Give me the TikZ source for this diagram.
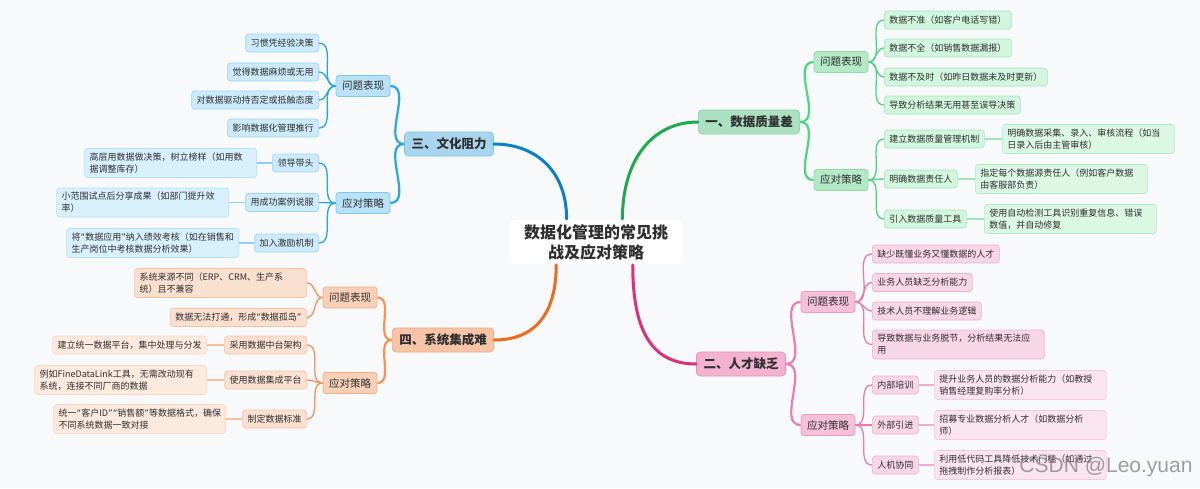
\documentclass[tikz,border=0pt]{standalone}
\usepackage{fontspec}
\setmainfont{Noto Sans CJK SC}
\newfontfamily\wmfont{Liberation Sans}
\newfontfamily\qfont{DejaVu Sans}
\newcommand\cq[1]{{\qfont“}#1{\qfont”}}
\usepackage{tikz}

% colours: g green, p pink, b blue, o orange
\definecolor{bgcol}{HTML}{F8F9FB}
\definecolor{txt}{HTML}{2F2F2F}
\definecolor{gline}{HTML}{1DAA4C}\definecolor{gtop}{HTML}{ABE0C0}\definecolor{gtopd}{HTML}{8FD4A9}
\definecolor{gmid}{HTML}{B5E8C6}\definecolor{gmidd}{HTML}{8EDBA8}\definecolor{gleaf}{HTML}{D2F5DD}
\definecolor{gleafd}{HTML}{A4E9BA}\definecolor{gnote}{HTML}{DDF7E5}\definecolor{gnoted}{HTML}{B0EBC3}
\definecolor{gtwig}{HTML}{4CD67F}\definecolor{gstub}{HTML}{A0E6B7}
\definecolor{pline}{HTML}{DE2F7A}\definecolor{ptop}{HTML}{F1B3D0}\definecolor{ptopd}{HTML}{EA8DB8}
\definecolor{pmid}{HTML}{F4C1D9}\definecolor{pmidd}{HTML}{EC9CC1}\definecolor{pleaf}{HTML}{F7D6E5}
\definecolor{pleafd}{HTML}{F0B2CE}\definecolor{pnote}{HTML}{FAE4EE}\definecolor{pnoted}{HTML}{F5CADD}
\definecolor{ptwig}{HTML}{EC7BAE}\definecolor{pstub}{HTML}{F2AECB}
\definecolor{bline}{HTML}{0A7FCC}\definecolor{btop}{HTML}{A8D4EE}\definecolor{btopd}{HTML}{7EC3EA}
\definecolor{bmid}{HTML}{B9E1F8}\definecolor{bmidd}{HTML}{7DC8F2}\definecolor{bleaf}{HTML}{CDEAFB}
\definecolor{bleafd}{HTML}{9AD5F7}\definecolor{bnote}{HTML}{D8EFFC}\definecolor{bnoted}{HTML}{B5E0F9}
\definecolor{btwig}{HTML}{22A6EE}\definecolor{bstub}{HTML}{8CCFF5}
\definecolor{oline}{HTML}{EE6A1E}\definecolor{otop}{HTML}{F6C5A8}\definecolor{otopd}{HTML}{F0A77C}
\definecolor{omid}{HTML}{F8D0B8}\definecolor{omidd}{HTML}{F3AE85}\definecolor{oleaf}{HTML}{FAE0D1}
\definecolor{oleafd}{HTML}{F5C4A6}\definecolor{onote}{HTML}{FCEADF}\definecolor{onoted}{HTML}{F8D6C2}
\definecolor{otwig}{HTML}{F7925A}\definecolor{ostub}{HTML}{F9BE9B}

\begin{document}
\begin{tikzpicture}[x=1pt,y=-1pt,
    root/.style={fill=white,draw=black!5,rounded corners=6pt,align=center,text=txt,
      font=\bfseries\fontsize{16}{20}\selectfont,inner xsep=15pt,inner ysep=5pt},
    top/.style={fill=#1top,draw=#1topd,line width=0.8pt,rounded corners=4pt,text=txt,
      font=\bfseries\fontsize{12.5}{15}\selectfont,inner xsep=7pt,minimum height=24pt},
    mid/.style={fill=#1mid,draw=#1midd,line width=0.8pt,rounded corners=3pt,text=txt,
      font=\fontsize{10.5}{13}\selectfont,inner xsep=6pt,minimum height=21pt},
    leaf/.style={fill=#1leaf,draw=#1leafd,line width=0.7pt,rounded corners=3pt,text=txt,
      font=\fontsize{9}{12}\selectfont,inner xsep=5pt,minimum height=18pt},
    wide/.style={text width=162pt,align=left,minimum height=29pt},
    note/.style={leaf=#1,fill=#1note,draw=#1noted,wide},
    trunk/.style={draw=#1line,line width=3pt,line cap=round},
    limb/.style={draw=#1twig,line width=2.2pt},
    twig/.style={draw=#1twig,line width=1.3pt},
    stub/.style={draw=#1stub,line width=1.3pt},
    wm/.style={text=gray,opacity=0.75,font=\wmfont\fontsize{21}{21}\selectfont}
  ]
  \fill[bgcol] (0,0) rectangle (1200,488);
  \useasboundingbox (0,0) rectangle (1200,488);

  \node[root] (root) at (596,242) {数据化管理的常见挑\\战及应对策略};
  \node[top=g] (g) at (749,122) {一、数据质量差};
  \node[top=p] (p) at (741,364) {二、人才缺乏};
  \node[top=b] (b) at (449,144) {三、文化阻力};
  \node[top=o] (o) at (443,340) {四、系统集成难};
  \draw[trunk=g] (root.41) .. controls +(0,-60) and +(-45,0) .. (g.west);
  \draw[trunk=p] (root.328) .. controls +(0,65) and +(-45,0) .. (p.west);
  \draw[trunk=b] (root.142) .. controls +(0,-50) and +(40,0) .. (b.east);
  \draw[trunk=o] (root.210) .. controls +(0,50) and +(40,0) .. (o.east);

  % 一、数据质量差
  \node[mid=g] (gq) at (841,62) {问题表现};
  \node[mid=g] (gs) at (841,180) {应对策略};
  \draw[limb=g] (g.east) to[out=0,in=180] (gq.west);
  \draw[limb=g] (g.east) to[out=0,in=180] (gs.west);
  \foreach \y/\t [count=\i] in {20/数据不准（如客户电话写错）,48/数据不全（如销售数据漏报）,
      77/数据不及时（如昨日数据未及时更新）,105/导致分析结果无用甚至误导决策}{
    \node[leaf=g,anchor=west] (gq\i) at (884,\y) {\t};
    \draw[twig=g] (gq.east) to[out=0,in=180] (gq\i.west);
  }
  \foreach \y/\t/\nx/\n [count=\i] in {139/建立数据质量管理机制/1002/{明确数据采集、录入、审核流程（如当\\日录入后由主管审核）},
      179/明确数据责任人/975/{指定每个数据源责任人（例如客户数据\\由客服部负责）},
      219/引入数据质量工具/984/{使用自动检测工具识别重复信息、错误\\数值，并自动修复}}{
    \node[leaf=g,anchor=west] (gs\i) at (884,\y) {\t};
    \node[note=g,anchor=west] (gn\i) at (\nx,\y) {\n};
    \draw[twig=g] (gs.east) to[out=0,in=180] (gs\i.west);
    \draw[stub=g] (gs\i.east) -- (gn\i.west);
  }

  % 二、人才缺乏
  \node[mid=p] (pq) at (828,302) {问题表现};
  \node[mid=p] (ps) at (828,425) {应对策略};
  \draw[limb=p] (p.east) to[out=0,in=180] (pq.west);
  \draw[limb=p] (p.east) to[out=0,in=180] (ps.west);
  \foreach \y/\t [count=\i] in {254/缺少既懂业务又懂数据的人才,282.5/业务人员缺乏分析能力,311/技术人员不理解业务逻辑}{
    \node[leaf=p,anchor=west] (pq\i) at (872,\y) {\t};
    \draw[twig=p] (pq.east) to[out=0,in=180] (pq\i.west);
  }
  \node[leaf=p,wide,anchor=west] (pq4) at (872,344.5) {导致数据与业务脱节，分析结果无法应\\用};
  \draw[twig=p] (pq.east) to[out=0,in=180] (pq4.west);
  \foreach \y/\t/\nx/\n [count=\i] in {385/内部培训/934/{提升业务人员的数据分析能力（如教授\\销售经理复购率分析）},
      425/外部引进/934/{招募专业数据分析人才（如数据分析\\师）},
      465/人机协同/934/{利用低代码工具降低技术门槛（如通过\\拖拽制作分析报表）}}{
    \node[leaf=p,anchor=west] (ps\i) at (872,\y) {\t};
    \node[note=p,anchor=west] (pn\i) at (\nx,\y) {\n};
    \draw[twig=p] (ps.east) to[out=0,in=180] (ps\i.west);
    \draw[stub=p] (ps\i.east) -- (pn\i.west);
  }

  % 三、文化阻力
  \node[mid=b] (bq) at (363,86) {问题表现};
  \node[mid=b] (bs) at (363,203) {应对策略};
  \draw[limb=b] (b.west) to[out=180,in=0] (bq.east);
  \draw[limb=b] (b.west) to[out=180,in=0] (bs.east);
  \foreach \y/\t [count=\i] in {43/习惯凭经验决策,72/觉得数据麻烦或无用,100/对数据驱动持否定或抵触态度,128/影响数据化管理推行}{
    \node[leaf=b,anchor=east] (bq\i) at (319,\y) {\t};
    \draw[twig=b] (bq.west) to[out=180,in=0] (bq\i.east);
  }
  \foreach \y/\t/\nx/\n [count=\i] in {163/领导带头/257/{高层用数据做决策，树立榜样（如用数\\据调整库存）},
      202.5/用成功案例说服/229/{小范围试点后分享成果（如部门提升效\\率）},
      243/加入激励机制/239/{将\cq{数据应用}纳入绩效考核（如在销售和\\生产岗位中考核数据分析效果）}}{
    \node[leaf=b,anchor=east] (bs\i) at (319,\y) {\t};
    \node[note=b,anchor=east] (bn\i) at (\nx,\y) {\n};
    \draw[twig=b] (bs.west) to[out=180,in=0] (bs\i.east);
    \draw[stub=b] (bs\i.west) -- (bn\i.east);
  }

  % 四、系统集成难
  \node[mid=o] (oq) at (350,297.5) {问题表现};
  \node[mid=o] (os) at (350,383) {应对策略};
  \draw[limb=o] (o.west) to[out=180,in=0] (oq.east);
  \draw[limb=o] (o.west) to[out=180,in=0] (os.east);
  \node[leaf=o,wide,anchor=east] (oq1) at (307,283) {系统来源不同（ERP、CRM、生产系\\统）且不兼容};
  \node[leaf=o,anchor=east] (oq2) at (307,317.5) {数据无法打通，形成\cq{数据孤岛}};
  \draw[twig=o] (oq.west) to[out=180,in=0] (oq1.east);
  \draw[twig=o] (oq.west) to[out=180,in=0] (oq2.east);
  \node[leaf=o,anchor=east] (os1) at (307,345) {采用数据中台架构};
  \node[leaf=o,fill=onote,draw=onoted,anchor=east] (on1) at (207,345) {建立统一数据平台，集中处理与分发};
  \draw[twig=o] (os.west) to[out=180,in=0] (os1.east);
  \draw[stub=o] (os1.west) -- (on1.east);
  \foreach \y/\t/\nx/\n [count=\i from 2] in {380/使用数据集成平台/207/{例如FineDataLink工具，无需改动现有\\系统，连接不同厂商的数据},
      419/制定数据标准/226/{统一\cq{客户ID}\cq{销售额}等数据格式，确保\\不同系统数据一致对接}}{
    \node[leaf=o,anchor=east] (os\i) at (307,\y) {\t};
    \node[note=o,anchor=east] (on\i) at (\nx,\y) {\n};
    \draw[twig=o] (os.west) to[out=180,in=0] (os\i.east);
    \draw[stub=o] (os\i.west) -- (on\i.east);
  }

  \node[wm] (wm) at (1106,467) {CSDN @Leo.yuan};
\end{tikzpicture}
\end{document}
